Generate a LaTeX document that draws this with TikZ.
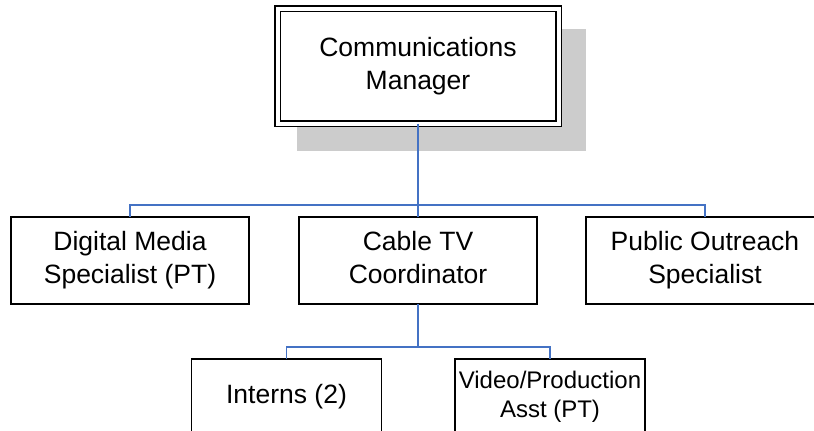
\documentclass[tikz,border=0pt]{standalone}
\usepackage{fontspec}
\setmainfont{Liberation Sans}
\definecolor{linkblue}{RGB}{68,114,196}
\definecolor{shadowgray}{RGB}{204,204,204}

\tikzset{
	post/.style={draw, line width=1.6pt, rectangle, fill=white, outer sep=0pt, inner sep=0pt,
		minimum width=238.4pt, minimum height=87.4pt, align=center,
		font=\fontsize{26.5}{33}\selectfont},
	headpost/.style={post, double, line width=1.5pt, double distance=4pt,
		minimum width=281pt, minimum height=115pt},
	lowpost/.style={post, minimum width=190pt, minimum height=76pt},
	link/.style={draw=linkblue, line width=1.5pt}
}

\begin{document}
\begin{tikzpicture}[x=1pt,y=-1pt]
			\useasboundingbox (0,0) rectangle (814,431);

			% top of the chart
			\fill[shadowgray] (297,29) rectangle (586,151);
			\node[headpost] (manager) at (418,66) {Communications\strut\\Manager\strut};

			% second row
			\node[post] (digital) at (130,260.5) {Digital Media\strut\\Specialist (PT)\strut};
			\node[post] (cable) at (418,260.5) {Cable TV\strut\\Coordinator\strut};
			\node[post] (outreach) at (705,260.5) {Public Outreach\strut\\Specialist\strut};

			% third row
			\node[lowpost] (interns) at (286.5,397) {Interns (2)\strut};
			\node[lowpost, font=\fontsize{24}{29}\selectfont] (video) at (550,397) {Video/Production\strut\\Asst (PT)\strut};

			% connectors
			\coordinate (split1) at (418,205);
			\coordinate (split2) at (418,347);
			\draw[link] (manager.south) -- (split1) -| (digital.north);
			\draw[link] (split1) -| (outreach.north);
			\draw[link] (split1) -- (cable.north);
			\draw[link] (cable.south) -- (split2) -| (interns.north);
			\draw[link] (split2) -| (video.north);
		\end{tikzpicture}
\end{document}
